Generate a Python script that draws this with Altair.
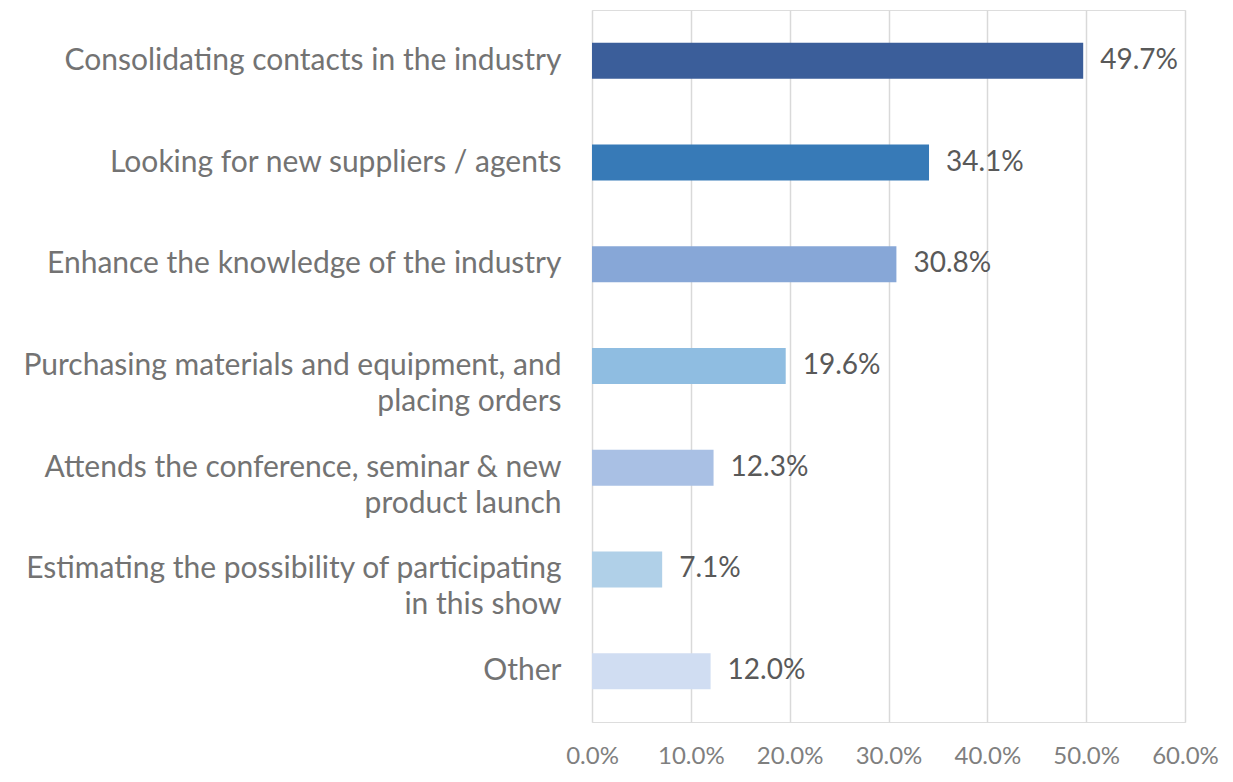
import altair as alt
import pandas as pd

categories = [
    "Consolidating contacts in the industry",
    "Looking for new suppliers / agents",
    "Enhance the knowledge of the industry",
    "Purchasing materials and equipment, and|placing orders",
    "Attends the conference, seminar & new|product launch",
    "Estimating the possibility of participating|in this show",
    "Other",
]
values = [49.7, 34.1, 30.8, 19.6, 12.3, 7.1, 12.0]
colors = ["#3B5E9A", "#377AB7", "#87A7D7", "#8FBDE1", "#A9C0E4", "#B0D0E8", "#D0DDF2"]

df = pd.DataFrame({"cat": categories, "val": [v / 100 for v in values], "color": colors})
df["label"] = [f"{v:.1f}%" for v in values]

FONT = "Lato"

y = alt.Y("cat:N", sort=categories, title=None,
          scale=alt.Scale(paddingInner=0.0, paddingOuter=0.0),
          axis=alt.Axis(labelExpr="split(datum.label, '|')", labelFontSize=30,
                        labelColor="#737373", labelFont=FONT, labelPadding=31,
                        labelLineHeight=36, ticks=False, domain=False,
                        labelLimit=700))
x = alt.X("val:Q", title=None, scale=alt.Scale(domain=[0, 0.6], nice=False),
          axis=alt.Axis(format=".1%", values=[0, 0.1, 0.2, 0.3, 0.4, 0.5, 0.6],
                        labelFontSize=24, labelColor="#7F7F7F", labelFont=FONT,
                        labelPadding=22, ticks=False, domain=False,
                        gridColor="#D9D9D9", gridWidth=1.5, labelFlush=False))

bars = alt.Chart(df).mark_bar(size=36).encode(
    x=x, y=y, color=alt.Color("color:N", scale=None))

text = alt.Chart(df).mark_text(align="left", baseline="middle", dx=17, fontSize=28,
                               font=FONT, color="#595959").encode(
    x="val:Q", y=alt.Y("cat:N", sort=categories), text="label:N")

chart = (bars + text).properties(
    width=593, height=712,
    autosize=alt.AutoSizeParams(type="none"),
    padding={"left": 584, "top": 2, "right": 40, "bottom": 48},
).configure_view(stroke=None).configure(background="white")

chart.save("out.html", embed_options={"renderer": "svg", "actions": False})
